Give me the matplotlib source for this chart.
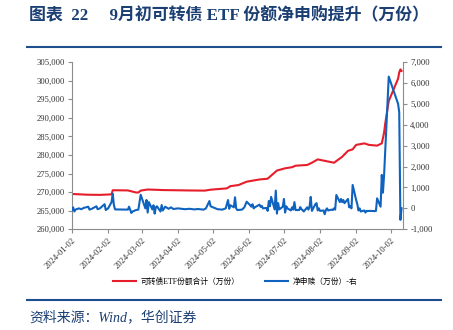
import numpy as np
import pandas as pd
from matplotlib import pyplot as plt
from matplotlib.lines import Line2D
from matplotlib.ticker import FuncFormatter

# ---- data ----
red_dates = ["2024-01-02", "2024-01-15", "2024-01-26", "2024-02-05", "2024-02-06", "2024-02-08",
             "2024-02-19", "2024-02-26", "2024-02-28", "2024-03-01", "2024-03-07", "2024-03-20",
             "2024-04-10", "2024-04-25", "2024-04-30", "2024-05-14", "2024-05-17", "2024-05-24",
             "2024-05-31", "2024-06-11", "2024-06-18", "2024-06-26", "2024-07-03", "2024-07-09",
             "2024-07-12", "2024-07-22", "2024-07-26", "2024-07-31", "2024-08-14", "2024-08-21",
             "2024-08-26", "2024-08-30", "2024-09-02", "2024-09-09", "2024-09-13", "2024-09-20",
             "2024-09-24", "2024-09-25", "2024-09-26", "2024-09-27", "2024-09-30", "2024-10-08",
             "2024-10-09", "2024-10-10", "2024-10-11"]
red_values = [269500, 269300, 269250, 269400, 270500, 270500,
              270450, 269900, 269900, 270400, 270700, 270550,
              270450, 270400, 270650, 271000, 271600, 271900,
              272800, 273400, 273600, 275800, 276400, 276700,
              277100, 277300, 277900, 278800, 277900, 279500,
              281100, 281500, 282700, 283100, 282700, 282500,
              283100, 284500, 286000, 288500, 294500, 300500,
              302200, 303000, 302600]

blue_dates = ["2024-01-02", "2024-01-03", "2024-01-04", "2024-01-05", "2024-01-08", "2024-01-10",
              "2024-01-12", "2024-01-16", "2024-01-17", "2024-01-19", "2024-01-23", "2024-01-24",
              "2024-01-26", "2024-01-30", "2024-01-31", "2024-02-02", "2024-02-05", "2024-02-06",
              "2024-02-07", "2024-02-08", "2024-02-19", "2024-02-20", "2024-02-22", "2024-02-23",
              "2024-02-26", "2024-02-28", "2024-03-01", "2024-03-04", "2024-03-05", "2024-03-06",
              "2024-03-07", "2024-03-08", "2024-03-11", "2024-03-12", "2024-03-13", "2024-03-14",
              "2024-03-15", "2024-03-18", "2024-03-19", "2024-03-20", "2024-03-22", "2024-03-25",
              "2024-03-27", "2024-03-29", "2024-04-02", "2024-04-08", "2024-04-12", "2024-04-16",
              "2024-04-19", "2024-04-24", "2024-04-26", "2024-04-29", "2024-04-30", "2024-05-06",
              "2024-05-10", "2024-05-13", "2024-05-15", "2024-05-16", "2024-05-17", "2024-05-20",
              "2024-05-21", "2024-05-22", "2024-05-23", "2024-05-27", "2024-05-29", "2024-05-31",
              "2024-06-03", "2024-06-04", "2024-06-05", "2024-06-06", "2024-06-07", "2024-06-11",
              "2024-06-12", "2024-06-13", "2024-06-14", "2024-06-17", "2024-06-18", "2024-06-19",
              "2024-06-20", "2024-06-21", "2024-06-24", "2024-06-25", "2024-06-26", "2024-06-27",
              "2024-06-28", "2024-07-01", "2024-07-02", "2024-07-03", "2024-07-04", "2024-07-05",
              "2024-07-08", "2024-07-09", "2024-07-10", "2024-07-11", "2024-07-12", "2024-07-15",
              "2024-07-16", "2024-07-17", "2024-07-18", "2024-07-19", "2024-07-22", "2024-07-23",
              "2024-07-24", "2024-07-25", "2024-07-26", "2024-07-29", "2024-07-30", "2024-07-31",
              "2024-08-01", "2024-08-02", "2024-08-05", "2024-08-06", "2024-08-07", "2024-08-08",
              "2024-08-09", "2024-08-12", "2024-08-13", "2024-08-14", "2024-08-15", "2024-08-16",
              "2024-08-19", "2024-08-20", "2024-08-21", "2024-08-22", "2024-08-23", "2024-08-26",
              "2024-08-27", "2024-08-28", "2024-08-29", "2024-08-30", "2024-09-02", "2024-09-03",
              "2024-09-04", "2024-09-05", "2024-09-06", "2024-09-09", "2024-09-10", "2024-09-11",
              "2024-09-12", "2024-09-13", "2024-09-18", "2024-09-19", "2024-09-20", "2024-09-23",
              "2024-09-24", "2024-09-25", "2024-09-26", "2024-09-27", "2024-09-30", "2024-10-08",
              "2024-10-09", "2024-10-10", "2024-10-11"]
blue_values = [-80, 50, -150, -60, 0, -40,
               20, 80, -60, -20, 100, -40,
               0, 200, -80, 0, 300, 700,
               150, -50, -60, 80, -220, -150,
               -80, -60, 650, 150, 0, 400,
               -200, 300, -50, 150, -250, 50,
               100, -150, 160, -100, 80, -20,
               50, -30, 0, -40, -20, -50,
               -30, -60, 0, 350, 100, -40,
               -60, 0, 400, -20, 150, 50,
               530, 0, -80, -60, 50, 320,
               150, 80, 200, 0, 50, 180,
               70, 120, 0, 20, -120, 350,
               100, 550, -50, 850, -250, 250,
               -50, 80, 450, -200, 100, 0,
               -100, 50, -60, 300, -80, -80,
               60, -40, -80, -150, 50, -60,
               80, 550, -120, 200, 250, -100,
               0, -120, -100, -280, -80, 0,
               -100, -60, -80, 0, -60, 640,
               300, 450, 300, 400, 250, 450,
               50, 100, 0, 1120, 400, 200,
               -100, 0, -150, -100, -200, -120,
               -130, -120, -130, -120, 480, 80,
               1600, 750, 1600, 2800, 6300, 5000,
               4600, -550, 0]

tick_dates = ["2024-01-02", "2024-02-02", "2024-03-02", "2024-04-02", "2024-05-02",
              "2024-06-02", "2024-07-02", "2024-08-02", "2024-09-02", "2024-10-02"]

red_label = "可转债ETF份额合计（万份）"
blue_label = "净申赎（万份）-右"
title_text = "图表  22     9月初可转债 ETF 份额净申购提升（万份）"
source_text = "资料来源：Wind，华创证券"

RED = "#E61E2B"
BLUE = "#0F63BF"
NAVY = "#1B3F73"
GRAY = "#8C8C8C"
FONTS = ["Liberation Serif", "Noto Sans CJK SC"]

plt.rcParams["font.family"] = FONTS

fig = plt.figure(figsize=(4.53, 3.30), dpi=100)
ax = fig.add_axes([0.1589, 0.3052, 0.7314, 0.5070])
ax2 = ax.twinx()

ax.plot(pd.to_datetime(red_dates), red_values, color=RED, lw=1.5)
ax2.plot(pd.to_datetime(blue_dates), blue_values, color=BLUE, lw=1.5)

ax.set_ylim(260000, 305000)
ax.set_yticks(np.arange(260000, 305001, 5000))
ax2.set_ylim(-1000, 7000)
ax2.set_yticks(np.arange(-1000, 7001, 1000))
fmt = FuncFormatter(lambda v, p: f"{v:,.0f}")
ax.yaxis.set_major_formatter(fmt)
ax2.yaxis.set_major_formatter(fmt)

ticks = pd.to_datetime(tick_dates)
ax.set_xlim(pd.Timestamp("2024-01-02"), pd.Timestamp("2024-10-12 12:00"))
ax.set_xticks(ticks)
ax.set_xticklabels([t.strftime("%Y-%m-%d") for t in ticks], rotation=45,
                   ha="right", rotation_mode="anchor")

for a in (ax, ax2):
    a.spines["top"].set_visible(False)
    for s in ("left", "right", "bottom"):
        a.spines[s].set_color(GRAY)
        a.spines[s].set_linewidth(0.8)
    a.tick_params(colors=GRAY, labelcolor="#333333", labelsize=6.2,
                  length=3, width=0.8, pad=2)
ax.spines["right"].set_visible(False)
ax2.spines["left"].set_visible(False)
ax2.spines["bottom"].set_visible(False)

# title, rules, legend, source
fig.text(0.064, 0.9515, title_text, color=NAVY, fontsize=12.2, fontweight="bold",
         va="center", ha="left", family=FONTS)
fig.add_artist(Line2D([0.0596, 0.9735], [0.8585, 0.8585], color="#1F4E8C", lw=1.5))
fig.add_artist(Line2D([0.0596, 0.9735], [0.0909, 0.0909], color="#1F4E8C", lw=1.5))

handles = [Line2D([], [], color=RED, lw=1.5), Line2D([], [], color=BLUE, lw=1.5)]
fig.legend(handles, [red_label, blue_label], loc="center", bbox_to_anchor=(0.519, 0.146),
           ncol=2, frameon=False, prop={"family": FONTS, "size": 5.6},
           handlelength=2.95, handletextpad=0.65, columnspacing=3.2)

fig.text(0.064, 0.0373, source_text, color=NAVY, fontsize=10, style="italic",
         va="center", ha="left", family=FONTS)

fig.savefig("out.png", dpi=100)
